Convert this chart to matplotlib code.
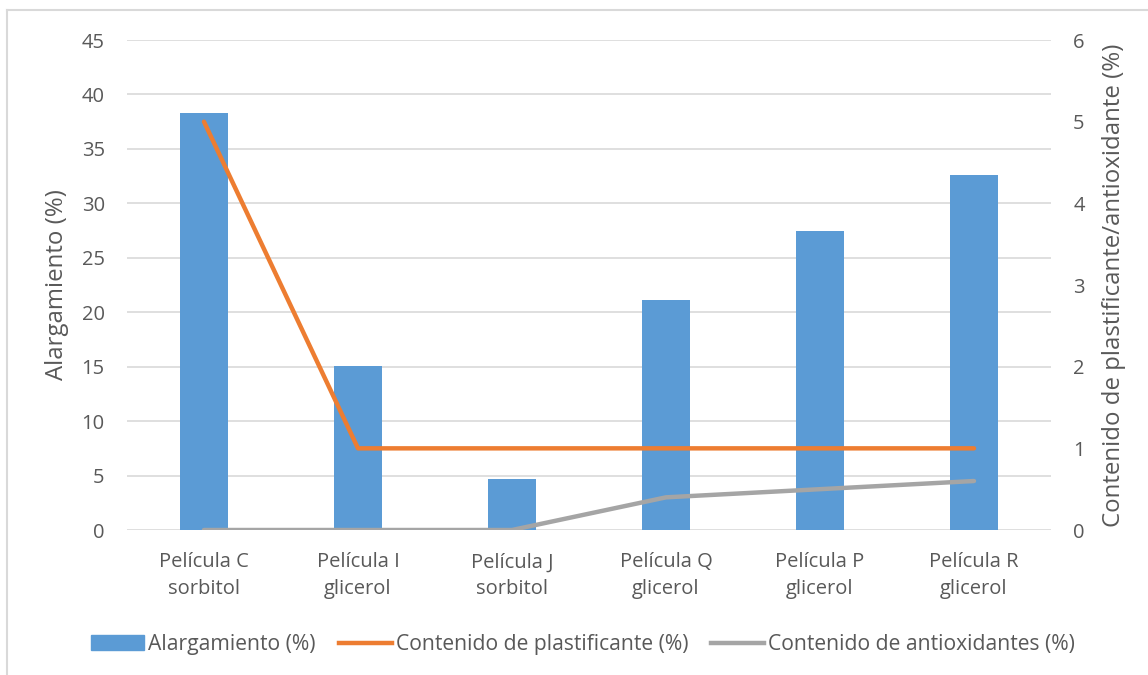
import numpy as np
import matplotlib.pyplot as plt
from matplotlib.lines import Line2D

plt.rcParams['font.family'] = ['Open Sans', 'DejaVu Sans']

# Datos de las películas
peliculas = ['Película C\nsorbitol', 'Película I\nglicerol', 'Película J\nsorbitol',
             'Película Q\nglicerol', 'Película P\nglicerol', 'Película R\nglicerol']
alargamiento = [38.3, 15.1, 4.7, 21.1, 27.5, 32.6]
plastificante = [5, 1, 1, 1, 1, 1]
antioxidantes = [0, 0, 0, 0.4, 0.5, 0.6]

azul = '#5B9BD5'
naranja = '#ED7D31'
gris = '#A5A5A5'
texto = '#595959'

fig = plt.figure(figsize=(11.48, 6.75), dpi=100)
ax = fig.add_axes([0.1106, 0.2148, 0.8049, 0.7259])
x = np.arange(len(peliculas))

# Barras de alargamiento (eje izquierdo)
ax.bar(x, alargamiento, width=0.31, color=azul, zorder=2)
ax.set_ylim(0, 45)
ax.set_yticks(np.arange(0, 46, 5))
ax.set_xlim(-0.5, len(peliculas) - 0.5)
ax.set_xticks(x)
ax.set_xticklabels(peliculas, fontsize=14.5, color=texto, linespacing=1.45)
ax.yaxis.grid(True, color='#D9D9D9', linewidth=1.2, zorder=0)
ax.set_axisbelow(True)
for s in ax.spines.values():
    s.set_visible(False)
ax.tick_params(length=0, labelsize=14.5, colors=texto)
ax.tick_params(axis='x', pad=16)
ax.tick_params(axis='y', pad=16)
ax.set_ylabel('Alargamiento (%)', fontsize=17.3, color=texto, labelpad=9)

# Líneas de contenido (eje derecho)
ax2 = ax.twinx()
ax2.plot(x, plastificante, color=naranja, linewidth=3.2, solid_capstyle='round', zorder=3)
ax2.plot(x, antioxidantes, color=gris, linewidth=3.2, solid_capstyle='round', zorder=3)
ax2.set_ylim(0, 6)
ax2.set_yticks(np.arange(0, 7, 1))
for s in ax2.spines.values():
    s.set_visible(False)
ax2.tick_params(length=0, labelsize=14.5, colors=texto, pad=16)
ax2.set_ylabel('Contenido de plastificante/antioxidante (%)', fontsize=17.3, color=texto,
               labelpad=12)

# Leyenda
handles = [plt.Rectangle((0, 0), 1, 1, color=azul),
           Line2D([0], [0], color=naranja, linewidth=3.2),
           Line2D([0], [0], color=gris, linewidth=3.2)]
etiquetas = ['Alargamiento (%)', 'Contenido de plastificante (%)', 'Contenido de antioxidantes (%)']
leg = fig.legend(handles, etiquetas, loc='center', bbox_to_anchor=(0.508, 0.045), ncol=3,
                 frameon=False, fontsize=15.2, handlelength=2.5, handletextpad=0.2,
                 columnspacing=1.1, handleheight=0.7)
for t in leg.get_texts():
    t.set_color(texto)

# Borde del área del gráfico
fig.add_artist(Line2D([0.0061, 0.0061], [0, 0.985], color='#D9D9D9', linewidth=1.5,
                      transform=fig.transFigure))
fig.add_artist(Line2D([0.0061, 1], [0.985, 0.985], color='#D9D9D9', linewidth=1.5,
                      transform=fig.transFigure))

fig.savefig('out.png', dpi=100)
